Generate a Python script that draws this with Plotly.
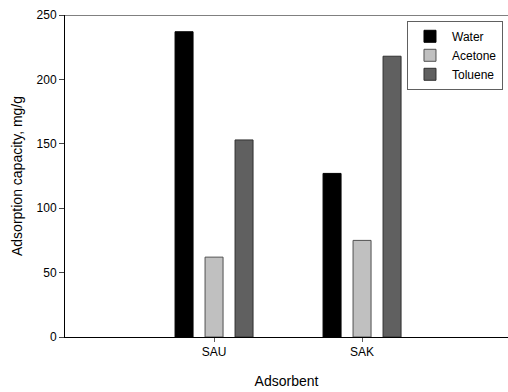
import plotly.graph_objects as go

categories = ["SAU", "SAK"]
series_names = ["Water", "Acetone", "Toluene"]
water = [237, 127]
acetone = [62, 75]
toluene = [153, 218]

fills = ["#000000", "#c0c0c0", "#606060"]
outlines = ["#000000", "#505050", "#303030"]

xpos = list(range(len(categories)))
fig = go.Figure()
for name, vals, fc, lc in zip(series_names, [water, acetone, toluene], fills, outlines):
    fig.add_trace(go.Bar(x=xpos, y=vals, name=name,
                         marker=dict(color=fc, line=dict(color=lc, width=1))))

font = "Liberation Sans, Arial, sans-serif"
fig.update_layout(
    width=508, height=392,
    margin=dict(l=65, r=0, t=15, b=55),
    paper_bgcolor="white", plot_bgcolor="white",
    barmode="group", bargap=0.392, bargroupgap=0.4,
    font=dict(family=font, size=12, color="black"),
    showlegend=True,
    legend=dict(x=0.772, y=0.982, xanchor="left", yanchor="top",
                bordercolor="#606060", borderwidth=1, bgcolor="white",
                font=dict(size=12), itemwidth=34, tracegroupgap=0),
    xaxis=dict(range=[-1.007, 1.986], tickmode="array", tickvals=xpos,
               ticktext=categories, showgrid=False, zeroline=False,
               showline=True, linecolor="black", linewidth=1,
               ticks="outside", ticklen=4, tickcolor="#606060", automargin=False,
               title=dict(text="Adsorbent", font=dict(size=14), standoff=17)),
    yaxis=dict(range=[0, 250], tickvals=[0, 50, 100, 150, 200, 250],
               showgrid=False, zeroline=False, showline=True, automargin=False,
               linecolor="black", linewidth=1, ticks="outside", ticklen=5,
               title=dict(text="Adsorption capacity, mg/g", font=dict(size=14), standoff=10)),
    shapes=[dict(type="line", xref="paper", yref="y", x0=0, x1=1, y0=250, y1=250,
                 line=dict(color="#808080", width=2))],
)

fig.write_html("out.html", config={"displayModeBar": False},
               post_script="document.body.style.margin='0';document.body.style.padding='0';document.body.style.overflow='hidden';")
